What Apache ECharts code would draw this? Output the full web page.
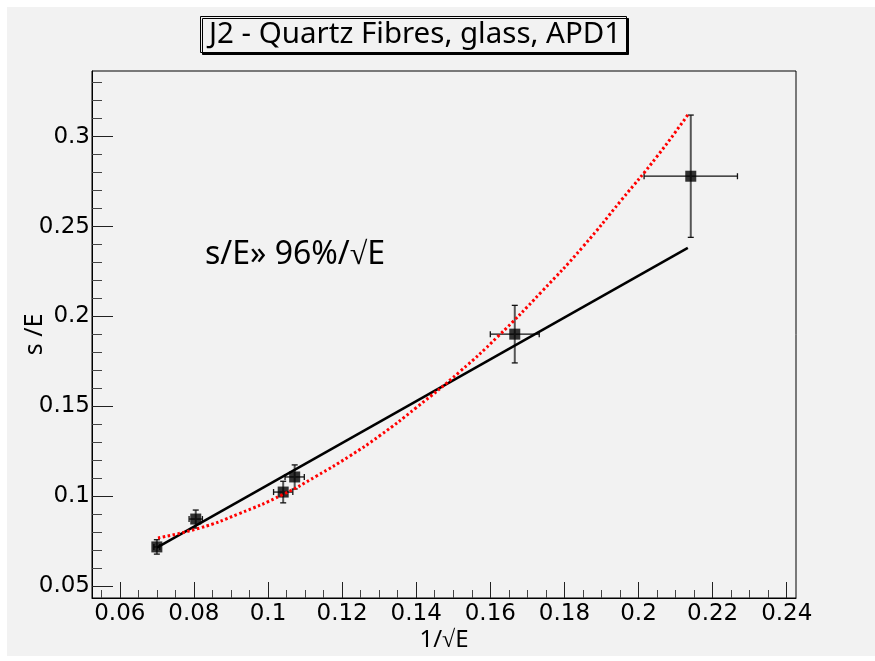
<!DOCTYPE html>
<html>
<head>
<meta charset="utf-8">
<script src="https://cdn.jsdelivr.net/npm/echarts@6/dist/echarts.min.js"></script>
<style>
  html, body { margin: 0; padding: 0; background: #fff; }
  #chart { width: 875px; height: 661px; }
</style>
</head>
<body>
<div id="chart"></div>
<script>
// measured points: x = 1/sqrt(E), y = sigma/E, with their errors
const xVals = [0.0700, 0.0805, 0.1041, 0.1072, 0.1666, 0.2141];
const yVals = [0.0719, 0.0874, 0.1024, 0.1108, 0.1902, 0.2780];
const xErr = [0.0008, 0.0018, 0.0026, 0.0026, 0.0066, 0.0126];
const yErr = [0.0040, 0.0050, 0.0060, 0.0067, 0.0160, 0.0340];

// straight black fit (end points)
const lineX = [0.0700, 0.2133];
const lineY = [0.0715, 0.2382];

// red dotted fit
const curveX = [0.0703, 0.0816, 0.0920, 0.1040, 0.1130, 0.1221, 0.1302, 0.1400,
                0.1518, 0.1620, 0.1739, 0.1850, 0.1954, 0.2050, 0.2134];
const curveY = [0.0769, 0.0824, 0.0902, 0.1010, 0.1112, 0.1225, 0.1338, 0.1493,
                0.1694, 0.1888, 0.2139, 0.2388, 0.2648, 0.2890, 0.3124];

// tick labels
const xMajor = [0.06, 0.08, 0.1, 0.12, 0.14, 0.16, 0.18, 0.2, 0.22, 0.24];
const yMajor = [0.05, 0.1, 0.15, 0.2, 0.25, 0.3];

const titleText = "J2 - Quartz Fibres, glass, APD1";
const noteText = "s/E» 96%/√E";
const xName = "1/√E";
const yName = "s /E";

const xMin = 0.0525, xMax = 0.2425;
const yMin = 0.0435, yMax = 0.3365;

function minorTicks(from, to, step, majors) {
  const out = [];
  for (let v = from; v <= to + 1e-9; v += step) {
    const r = Math.round(v * 1000) / 1000;
    if (!majors.some(m => Math.abs(m - r) < 1e-6)) out.push(r);
  }
  return out;
}
const xMinor = minorTicks(0.055, 0.24, 0.005, xMajor);
const yMinor = minorTicks(0.05, 0.336, 0.01, yMajor);

const font = "Noto Sans";
const numFont = "DejaVu Sans";
const fmt = v => String(+v.toFixed(3));

const chart = echarts.init(document.getElementById("chart"));

const option = {
  backgroundColor: "#fff",
  animation: false,
  title: {
    text: titleText,
    left: 200,
    top: 16,
    padding: [3, 6, 2, 9],
    backgroundColor: "#f2f2f2",
    borderColor: "#000",
    borderWidth: 1,
    shadowColor: "#000",
    shadowBlur: 0,
    shadowOffsetX: 2,
    shadowOffsetY: 2,
    textStyle: {
      fontFamily: font,
      fontWeight: "normal",
      fontSize: 29.5,
      lineHeight: 32,
      color: "#000",
    },
  },
  graphic: [
    {
      type: "rect",
      z: -100,
      left: 7,
      top: 7,
      shape: { width: 868, height: 649 },
      style: { fill: "#f2f2f2" },
    },
    {
      type: "text",
      left: 205,
      top: 239,
      style: {
        text: noteText,
        font: "32px '" + font + "'",
        fill: "#000",
      },
    },
  ],
  grid: {
    left: 92,
    top: 71,
    right: 79,
    bottom: 63,
    outerBoundsMode: "none",
    show: true,
    borderColor: "#000",
    borderWidth: 1,
    backgroundColor: "transparent",
  },
  xAxis: [
    {
      type: "value",
      min: xMin,
      max: xMax,
      position: "bottom",
      name: xName,
      nameLocation: "middle",
      nameGap: 30,
      nameMoveOverlap: false,
      nameTextStyle: { fontFamily: font, fontSize: 24, color: "#000" },
      axisLine: { onZero: false, lineStyle: { color: "#000", width: 1 } },
      axisTick: { inside: true, length: 16, customValues: xMajor, lineStyle: { color: "#222" } },
      axisLabel: { customValues: xMajor, formatter: fmt, fontFamily: numFont, fontSize: 23, color: "#000", margin: 5 },
      splitLine: { show: false },
    },
    {
      type: "value",
      min: xMin,
      max: xMax,
      position: "bottom",
      axisLine: { show: false, onZero: false },
      axisTick: { inside: true, length: 8, customValues: xMinor, lineStyle: { color: "#444" } },
      axisLabel: { show: false },
      splitLine: { show: false },
    },
  ],
  yAxis: [
    {
      type: "value",
      min: yMin,
      max: yMax,
      position: "left",
      name: yName,
      nameLocation: "middle",
      nameGap: 45,
      nameMoveOverlap: false,
      nameTextStyle: { fontFamily: font, fontSize: 25, color: "#000" },
      axisLine: { onZero: false, lineStyle: { color: "#000", width: 1 } },
      axisTick: { inside: true, length: 21, customValues: yMajor, lineStyle: { color: "#222" } },
      axisLabel: { customValues: yMajor, formatter: fmt, fontFamily: numFont, fontSize: 23, color: "#000", margin: 2 },
      splitLine: { show: false },
    },
    {
      type: "value",
      min: yMin,
      max: yMax,
      position: "left",
      axisLine: { show: false, onZero: false },
      axisTick: { inside: true, length: 10, customValues: yMinor, lineStyle: { color: "#444" } },
      axisLabel: { show: false },
      splitLine: { show: false },
    },
  ],
  series: [
    {
      type: "custom",
      xAxisIndex: 0,
      yAxisIndex: 0,
      z: 2,
      data: xVals.map((x, i) => [x, yVals[i], xErr[i], yErr[i]]),
      renderItem: function (params, api) {
        const x = api.value(0), y = api.value(1);
        const ex = api.value(2), ey = api.value(3);
        const c = api.coord([x, y]);
        const l = api.coord([x - ex, y]);
        const r = api.coord([x + ex, y]);
        const t = api.coord([x, y + ey]);
        const b = api.coord([x, y - ey]);
        const hs = { stroke: "#111", lineWidth: 1.3 };
        const vs = { stroke: "#555", lineWidth: 2 };
        const cap = 3;
        return {
          type: "group",
          children: [
            { type: "line", shape: { x1: l[0], y1: c[1], x2: r[0], y2: c[1] }, style: hs },
            { type: "line", shape: { x1: l[0], y1: c[1] - cap, x2: l[0], y2: c[1] + cap }, style: hs },
            { type: "line", shape: { x1: r[0], y1: c[1] - cap, x2: r[0], y2: c[1] + cap }, style: hs },
            { type: "line", shape: { x1: c[0], y1: t[1], x2: c[0], y2: b[1] }, style: vs },
            { type: "line", shape: { x1: c[0] - cap, y1: t[1], x2: c[0] + cap, y2: t[1] }, style: hs },
            { type: "line", shape: { x1: c[0] - cap, y1: b[1], x2: c[0] + cap, y2: b[1] }, style: hs },
          ],
        };
      },
    },
    {
      type: "scatter",
      xAxisIndex: 0,
      yAxisIndex: 0,
      z: 3,
      symbol: "rect",
      symbolSize: 11,
      itemStyle: { color: "#000" },
      data: xVals.map((x, i) => [x, yVals[i]]),
    },
    {
      type: "line",
      xAxisIndex: 0,
      yAxisIndex: 0,
      z: 4,
      showSymbol: false,
      lineStyle: { color: "#000", width: 2.5 },
      data: lineX.map((x, i) => [x, lineY[i]]),
    },
    {
      type: "line",
      xAxisIndex: 0,
      yAxisIndex: 0,
      z: 5,
      smooth: true,
      showSymbol: false,
      lineStyle: { color: "#ff0000", width: 3, type: [2.5, 2.5] },
      data: curveX.map((x, i) => [x, curveY[i]]),
    },
  ],
};

chart.setOption(option);
window.addEventListener("resize", () => chart.resize());
</script>
</body>
</html>
